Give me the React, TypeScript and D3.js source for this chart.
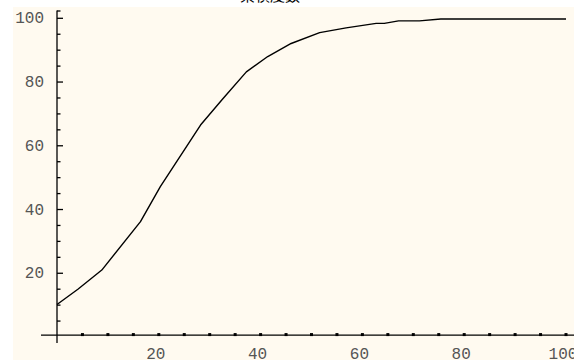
import * as d3 from 'd3';

// cumulative percentage
const xValues = [0, 4.1, 8.8, 16.4, 20.3, 28.2, 32.5, 37.2, 41.4, 46, 51.6, 56.8, 62.7, 64.3, 67.1, 71.2, 75.4, 100];
const yValues = [10.2, 15, 21, 36.2, 47.2, 66.5, 74.6, 83.2, 88, 92.1, 95.5, 97, 98.4, 98.4, 99.2, 99.2, 99.8, 99.8];

const xTickLabels = [20, 40, 60, 80, 100];
const yTickLabels = [20, 40, 60, 80, 100];
const xMinorTicks = d3.range(5, 101, 5);
const yMinorTicks = d3.range(5, 101, 5);
const title = '累積度数';

const W = 574;
const H = 360;

const App = () => {
  const x = d3.scaleLinear().domain([0, 100]).range([57, 566]);
  const y = d3.scaleLinear().domain([0, 100]).range([337, 18.3]);

  const points: [number, number][] = xValues.map((v, i) => [v, yValues[i]]);
  const line = d3.line<[number, number]>()
    .x(d => x(d[0]))
    .y(d => y(d[1]));

  const axisY = y(0.6); // axes cross slightly above 0
  const font = '"Liberation Mono", monospace';

  return (
    <svg width={W} height={H} style={{ position: 'absolute', left: 0, top: 0 }}>
      <rect x={0} y={0} width={W} height={H} fill="#ffffff" />
      <rect x={13} y={7} width={W - 13} height={H - 7} fill="#fffaf0" />
      {/* title sits mostly above the visible area */}
      <text x={270} y={1} textAnchor="middle" fontSize={15}
        fontFamily='"Noto Sans CJK JP", sans-serif' fill="#000">{title}</text>

      {/* x axis */}
      <line x1={41} x2={W} y1={axisY} y2={axisY} stroke="#000" strokeWidth={1.3} />
      {xMinorTicks.map(t => (
        <rect key={'xt' + t} x={x(t) - 1.5} y={axisY - 2} width={3} height={3} fill="#000" />
      ))}
      {xTickLabels.map(t => (
        <text key={'xl' + t} x={x(t) - 3} y={axisY + 24} textAnchor="middle"
          fontFamily={font} fontSize={16} fill="#555">{t}</text>
      ))}

      {/* y axis */}
      <line x1={x(0)} x2={x(0)} y1={10.5} y2={343} stroke="#000" strokeWidth={1.3} />
      <line x1={x(0)} x2={x(0) + 3.5} y1={11} y2={11} stroke="#000" strokeWidth={1.3} />
      {yMinorTicks.map(t => (
        <line key={'yt' + t} x1={x(0)} x2={x(0) + (t % 20 === 0 ? 6 : 3.5)}
          y1={y(t)} y2={y(t)} stroke="#000" strokeWidth={1.3} />
      ))}
      {yTickLabels.map(t => (
        <text key={'yl' + t} x={44} y={y(t) + 5} textAnchor="end"
          fontFamily={font} fontSize={16} fill="#555">{t}</text>
      ))}

      <path d={line(points) || ''} fill="none" stroke="#000" strokeWidth={1.4} strokeLinejoin="round" />
    </svg>
  );
};

export default App;
